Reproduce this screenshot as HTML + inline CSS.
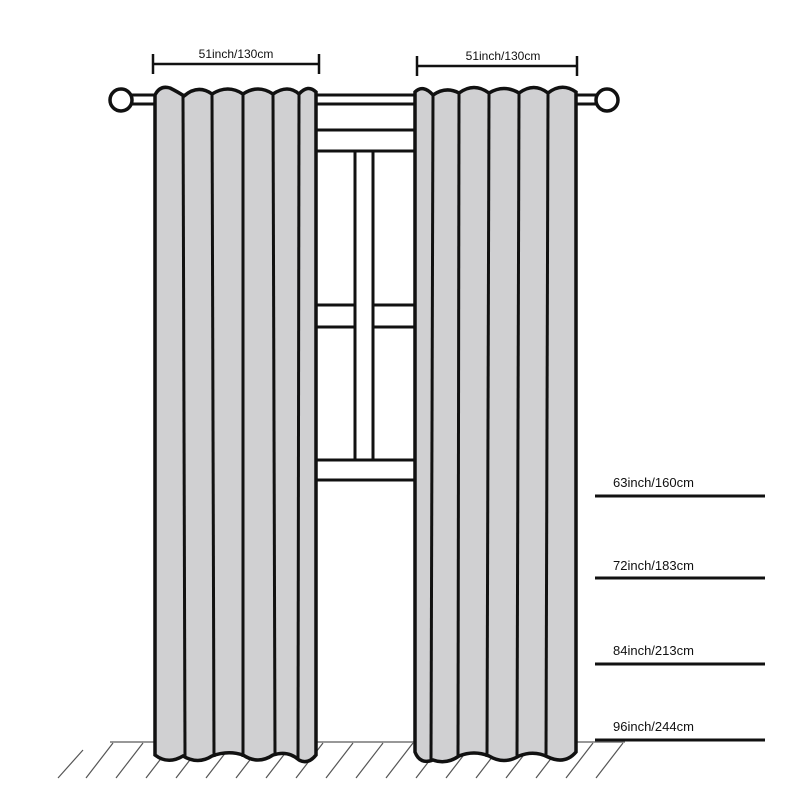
<!DOCTYPE html>
<html><head><style>body{margin:0;background:#fff}svg{display:block}</style></head><body>
<svg width="800" height="800" viewBox="0 0 800 800" xmlns="http://www.w3.org/2000/svg">
<rect width="800" height="800" fill="#fff"/>
<!-- floor -->
<line x1="110" y1="742" x2="625" y2="742" stroke="#777" stroke-width="1.5"/>
<g stroke="#555" stroke-width="1.2">
<line x1="83" y1="750" x2="58" y2="778"/>
<line x1="113" y1="743" x2="86" y2="778"/>
<line x1="143" y1="743" x2="116" y2="778"/>
<line x1="173" y1="743" x2="146" y2="778"/>
<line x1="203" y1="743" x2="176" y2="778"/>
<line x1="233" y1="743" x2="206" y2="778"/>
<line x1="263" y1="743" x2="236" y2="778"/>
<line x1="293" y1="743" x2="266" y2="778"/>
<line x1="323" y1="743" x2="296" y2="778"/>
<line x1="353" y1="743" x2="326" y2="778"/>
<line x1="383" y1="743" x2="356" y2="778"/>
<line x1="413" y1="743" x2="386" y2="778"/>
<line x1="443" y1="743" x2="416" y2="778"/>
<line x1="473" y1="743" x2="446" y2="778"/>
<line x1="503" y1="743" x2="476" y2="778"/>
<line x1="533" y1="743" x2="506" y2="778"/>
<line x1="563" y1="743" x2="536" y2="778"/>
<line x1="593" y1="743" x2="566" y2="778"/>
<line x1="623" y1="743" x2="596" y2="778"/>
</g>
<!-- window -->
<g stroke="#111" stroke-width="3" fill="none">
<line x1="316" y1="130" x2="415" y2="130"/>
<line x1="316" y1="151" x2="415" y2="151"/>
<line x1="316" y1="305" x2="355" y2="305"/>
<line x1="316" y1="327" x2="355" y2="327"/>
<line x1="373" y1="305" x2="415" y2="305"/>
<line x1="373" y1="327" x2="415" y2="327"/>
<line x1="355" y1="151" x2="355" y2="460"/>
<line x1="373" y1="151" x2="373" y2="460"/>
<line x1="316" y1="460" x2="415" y2="460"/>
<line x1="316" y1="480" x2="415" y2="480"/>
</g>
<!-- rod -->
<rect x="130" y="95" width="470" height="9" fill="#fff" stroke="#111" stroke-width="3"/>
<circle cx="121" cy="100" r="11" fill="#fff" stroke="#111" stroke-width="3.5"/>
<circle cx="607" cy="100" r="11" fill="#fff" stroke="#111" stroke-width="3.5"/>
<!-- left curtain -->
<path d="M155 95 Q160 85 170 88 Q178 92 184 96 Q198 84 212 94 Q228 84 243 94 Q258 84 273 94 Q288 84 299 94 Q308 84 316 92 L316 755 Q308 765 299 760 Q288 750 273 755 Q258 765 243 755 Q228 750 212 756 Q198 765 183 756 Q168 765 155 755 Z" fill="#d0d0d2" stroke="#111" stroke-width="3.5"/>
<g stroke="#111" stroke-width="3">
<line x1="183" y1="96" x2="185" y2="757"/>
<line x1="212" y1="94" x2="214" y2="757"/>
<line x1="243" y1="94" x2="243" y2="757"/>
<line x1="273" y1="94" x2="275" y2="756"/>
<line x1="299" y1="94" x2="298" y2="760"/>
</g>
<!-- right curtain -->
<path d="M415 92 Q423 84 433 95 Q446 86 459 93 Q474 82 489 93 Q504 84 519 93 Q534 82 548 93 Q562 82 576 92 L576 752 Q565 765 548 757 Q534 750 519 756 Q504 765 489 756 Q474 750 459 756 Q446 765 433 760 Q420 765 415 752 Z" fill="#d0d0d2" stroke="#111" stroke-width="3.5"/>
<g stroke="#111" stroke-width="3">
<line x1="433" y1="95" x2="431" y2="760"/>
<line x1="459" y1="93" x2="458" y2="757"/>
<line x1="489" y1="93" x2="487" y2="757"/>
<line x1="519" y1="93" x2="517" y2="757"/>
<line x1="548" y1="93" x2="546" y2="757"/>
</g>
<!-- width dims -->
<g stroke="#111" stroke-width="2.5">
<line x1="153" y1="64" x2="319" y2="64"/>
<line x1="153" y1="54" x2="153" y2="74"/>
<line x1="319" y1="54" x2="319" y2="74"/>
<line x1="417" y1="66" x2="577" y2="66"/>
<line x1="417" y1="56" x2="417" y2="76"/>
<line x1="577" y1="56" x2="577" y2="76"/>
</g>
<g font-family="Liberation Sans, sans-serif" font-size="12" fill="#111">
<text x="236" y="58" text-anchor="middle">51inch/130cm</text>
<text x="503" y="60" text-anchor="middle">51inch/130cm</text>
</g>
<!-- length dims -->
<g stroke="#111" stroke-width="3">
<line x1="595" y1="496" x2="765" y2="496"/>
<line x1="595" y1="578" x2="765" y2="578"/>
<line x1="595" y1="664" x2="765" y2="664"/>
<line x1="595" y1="740" x2="765" y2="740"/>
</g>
<g font-family="Liberation Sans, sans-serif" font-size="13" fill="#111">
<text x="613" y="487">63inch/160cm</text>
<text x="613" y="570">72inch/183cm</text>
<text x="613" y="655">84inch/213cm</text>
<text x="613" y="731">96inch/244cm</text>
</g>
</svg>
</body></html>
